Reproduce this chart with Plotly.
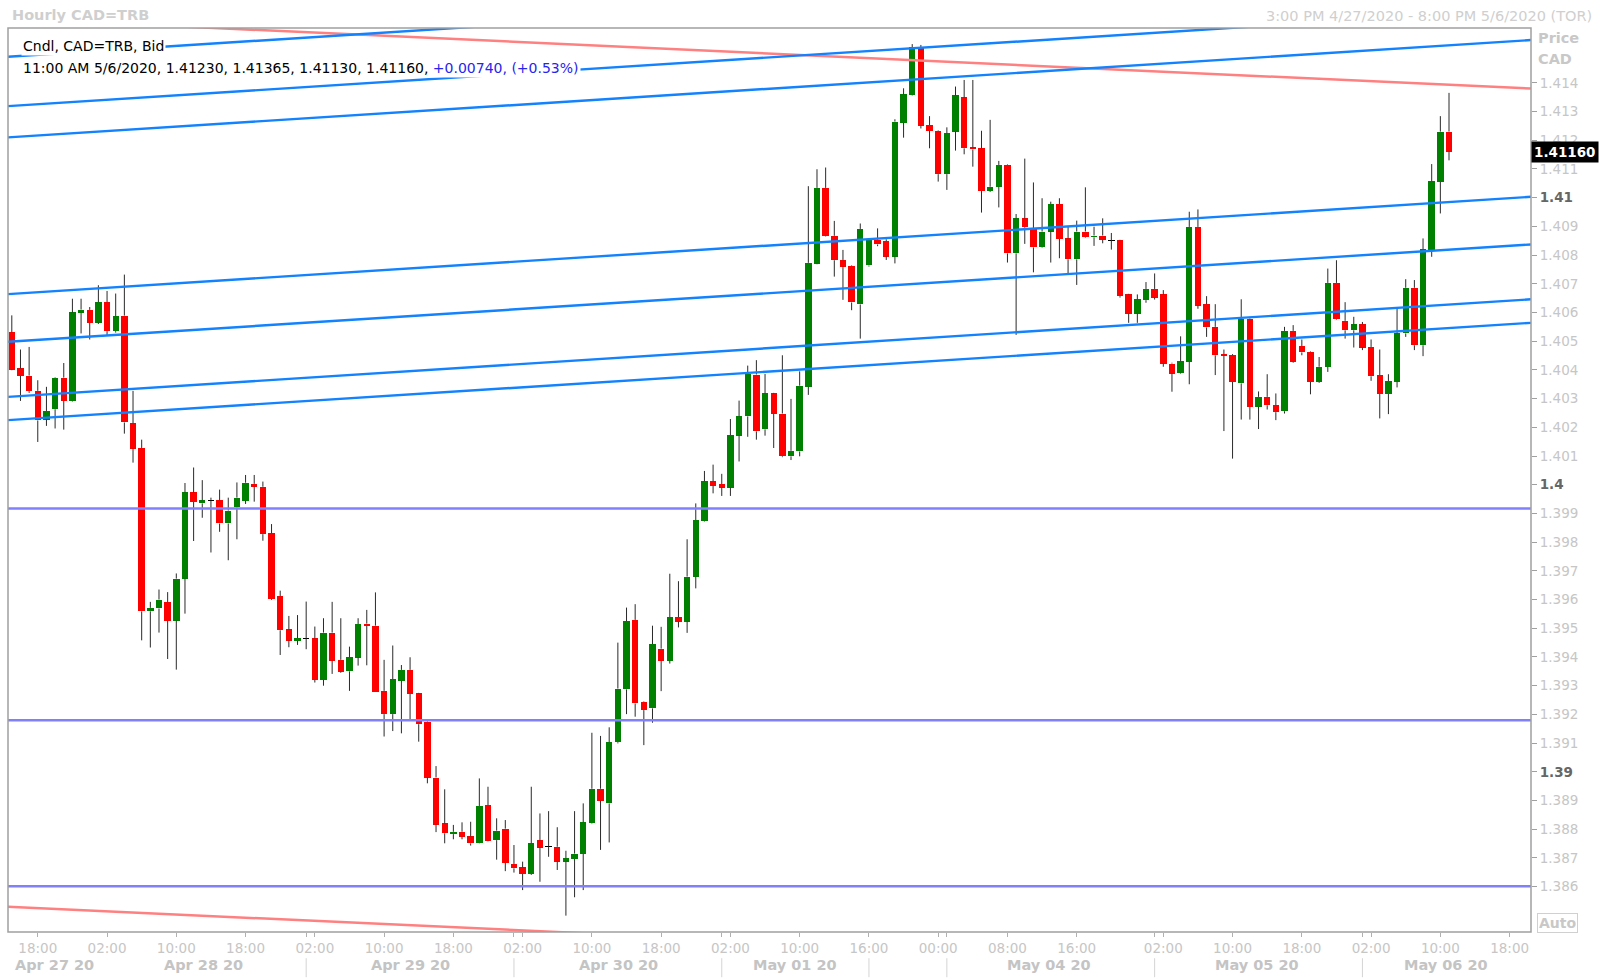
import plotly.graph_objects as go

# ---------------- data ----------------
candle_idx = list(range(167))
open_ = [1.40531,1.40405,1.40380,1.40327,1.40227,1.40263,1.40373,1.40292,1.40599,1.40609,
         1.40565,1.40636,1.40535,1.40589,1.40214,1.40128,1.39559,1.39569,1.39591,1.39526,
         1.39673,1.39973,1.39935,1.39945,1.39946,1.39865,1.39921,1.39945,1.40003,1.39993,
         1.39831,1.39612,1.39496,1.39457,1.39466,1.39465,1.39320,1.39485,1.39390,1.39350,
         1.39398,1.39516,1.39509,1.39282,1.39201,1.39318,1.39355,1.39273,1.39175,1.38980,
         1.38820,1.38783,1.38791,1.38775,1.38751,1.38884,1.38762,1.38802,1.38679,1.38667,
         1.38644,1.38761,1.38738,1.38739,1.38687,1.38696,1.38714,1.38820,1.38941,1.38890,
         1.39103,1.39287,1.39529,1.39243,1.39221,1.39429,1.39387,1.39539,1.39523,1.39680,
         1.39874,1.40012,1.40002,1.39990,1.40171,1.40238,1.40384,1.40193,1.40318,1.40248,
         1.40099,1.40116,1.40341,1.40770,1.41034,1.40867,1.40782,1.40763,1.40628,1.40764,
         1.40853,1.40849,1.40795,1.41261,1.41358,1.41524,1.41253,1.41233,1.41082,1.41230,
         1.41349,1.41175,1.41172,1.41023,1.41038,1.41114,1.40806,1.40928,1.40890,1.40827,
         1.40882,1.40978,1.40858,1.40785,1.40882,1.40862,1.40868,1.40852,1.40852,1.40663,
         1.40596,1.40643,1.40682,1.40663,1.40422,1.40390,1.40428,1.40898,1.40629,1.40550,
         1.40455,1.40451,1.40353,1.40578,1.40271,1.40306,1.40277,1.40256,1.40536,1.40483,
         1.40463,1.40358,1.40411,1.40703,1.40571,1.40538,1.40559,1.40480,1.40382,1.40316,
         1.40359,1.40527,1.40686,1.40486,1.40817,1.41055,1.41230]
high = [1.40590,1.40471,1.40480,1.40364,1.40341,1.40375,1.40424,1.40648,1.40648,1.40619,
        1.40695,1.40675,1.40666,1.40732,1.40327,1.40157,1.39592,1.39635,1.39626,1.39691,
        1.40006,1.40060,1.40016,1.39955,1.39983,1.39955,1.40008,1.40034,1.40034,1.40011,
        1.39863,1.39631,1.39543,1.39546,1.39593,1.39506,1.39535,1.39592,1.39535,1.39436,
        1.39535,1.39564,1.39625,1.39390,1.39440,1.39372,1.39399,1.39275,1.39180,1.39020,
        1.38939,1.38815,1.38824,1.38826,1.38977,1.38948,1.38838,1.38832,1.38745,1.38687,
        1.38948,1.38855,1.38863,1.38807,1.38725,1.38863,1.38890,1.39136,1.39125,1.39155,
        1.39450,1.39572,1.39584,1.39245,1.39509,1.39505,1.39690,1.39664,1.39810,1.39935,
        1.40048,1.40070,1.40038,1.40229,1.40293,1.40415,1.40434,1.40386,1.40320,1.40451,
        1.40299,1.40395,1.41040,1.41099,1.41105,1.40919,1.40818,1.40765,1.40910,1.40855,
        1.40893,1.40855,1.41273,1.41381,1.41535,1.41532,1.41284,1.41235,1.41245,1.41387,
        1.41410,1.41410,1.41233,1.41271,1.41128,1.41116,1.40943,1.41136,1.41053,1.40998,
        1.40986,1.40998,1.40899,1.40920,1.41036,1.40899,1.40928,1.40877,1.40853,1.40665,
        1.40663,1.40706,1.40736,1.40678,1.40425,1.40517,1.40951,1.40959,1.40657,1.40629,
        1.40471,1.40455,1.40646,1.40580,1.40325,1.40385,1.40318,1.40550,1.40556,1.40506,
        1.40465,1.40445,1.40753,1.40782,1.40636,1.40585,1.40567,1.40506,1.40471,1.40385,
        1.40614,1.40716,1.40713,1.40858,1.41117,1.41284,1.41365]
low = [1.40399,1.40292,1.40320,1.40149,1.40205,1.40196,1.40192,1.40290,1.40527,1.40506,
       1.40560,1.40521,1.40530,1.40178,1.40077,1.39458,1.39433,1.39485,1.39393,1.39356,
       1.39551,1.39804,1.39885,1.39764,1.39836,1.39737,1.39810,1.39933,1.39941,1.39805,
       1.39599,1.39407,1.39434,1.39442,1.39427,1.39311,1.39300,1.39341,1.39345,1.39282,
       1.39370,1.39371,1.39277,1.39123,1.39142,1.39134,1.39183,1.39105,1.38960,1.38790,
       1.38751,1.38765,1.38765,1.38743,1.38750,1.38758,1.38694,1.38654,1.38649,1.38588,
       1.38641,1.38617,1.38704,1.38658,1.38499,1.38563,1.38588,1.38818,1.38728,1.38754,
       1.39099,1.39201,1.39192,1.39093,1.39171,1.39281,1.39377,1.39503,1.39484,1.39639,
       1.39872,1.39970,1.39961,1.39961,1.40081,1.40167,1.40157,1.40171,1.40128,1.40096,
       1.40086,1.40099,1.40313,1.40768,1.40865,1.40725,1.40644,1.40608,1.40509,1.40760,
       1.40831,1.40783,1.40771,1.41209,1.41356,1.41241,1.41172,1.41056,1.41027,1.41164,
       1.41151,1.41108,1.40948,1.41020,1.40966,1.40774,1.40522,1.40839,1.40740,1.40825,
       1.40774,1.40789,1.40737,1.40696,1.40860,1.40832,1.40841,1.40819,1.40652,1.40564,
       1.40564,1.40634,1.40645,1.40411,1.40324,1.40387,1.40350,1.40613,1.40515,1.40382,
       1.40187,1.40091,1.40227,1.40227,1.40194,1.40262,1.40225,1.40248,1.40425,1.40451,
       1.40315,1.40355,1.40393,1.40574,1.40509,1.40478,1.40469,1.40362,1.40231,1.40246,
       1.40339,1.40515,1.40469,1.40448,1.40794,1.40945,1.41130]
close = [1.40401,1.40379,1.40326,1.40224,1.40257,1.40373,1.40292,1.40600,1.40610,1.40564,
         1.40636,1.40535,1.40587,1.40217,1.40126,1.39559,1.39571,1.39600,1.39526,1.39673,
         1.39973,1.39940,1.39946,1.39947,1.39865,1.39910,1.39955,1.40007,1.39993,1.39828,
         1.39603,1.39493,1.39457,1.39466,1.39465,1.39320,1.39485,1.39387,1.39349,1.39399,
         1.39515,1.39508,1.39277,1.39201,1.39323,1.39355,1.39271,1.39166,1.38980,1.38816,
         1.38786,1.38791,1.38774,1.38751,1.38881,1.38760,1.38795,1.38683,1.38664,1.38644,
         1.38751,1.38736,1.38739,1.38687,1.38699,1.38715,1.38824,1.38941,1.38899,1.39103,
         1.39290,1.39525,1.39238,1.39215,1.39445,1.39387,1.39539,1.39523,1.39680,1.39877,
         1.40012,1.39996,1.39990,1.40173,1.40238,1.40386,1.40186,1.40318,1.40247,1.40099,
         1.40118,1.40345,1.40773,1.41034,1.40867,1.40782,1.40760,1.40635,1.40891,1.40853,
         1.40837,1.40795,1.41265,1.41360,1.41524,1.41251,1.41233,1.41082,1.41224,1.41356,
         1.41172,1.41168,1.41023,1.41038,1.41114,1.40806,1.40928,1.40897,1.40827,1.40882,
         1.40978,1.40856,1.40785,1.40882,1.40862,1.40868,1.40853,1.40851,1.40657,1.40596,
         1.40646,1.40682,1.40652,1.40422,1.40387,1.40430,1.40898,1.40624,1.40548,1.40451,
         1.40449,1.40358,1.40578,1.40271,1.40306,1.40277,1.40253,1.40536,1.40428,1.40461,
         1.40358,1.40411,1.40703,1.40576,1.40538,1.40559,1.40478,1.40378,1.40316,1.40361,
         1.40527,1.40686,1.40486,1.40821,1.41057,1.41230,1.41160]

time_tick_idx = [3, 11, 19, 27, 35, 43, 51, 59, 67, 75, 83, 91, 99, 107, 115, 123, 133, 141, 149, 157, 165, 173]
time_tick_text = ["18:00", "02:00", "10:00", "18:00", "02:00", "10:00", "18:00", "02:00", "10:00", "18:00",
                  "02:00", "10:00", "16:00", "00:00", "08:00", "16:00", "02:00", "10:00", "18:00", "02:00",
                  "10:00", "18:00"]
date_labels = ["Apr 27 20", "Apr 28 20", "Apr 29 20", "Apr 30 20", "May 01 20", "May 04 20", "May 05 20", "May 06 20"]
date_label_idx = [4.9, 22.1, 46.1, 70.1, 90.5, 119.8, 143.8, 165.6]
day_break_idx = [34, 58, 82, 99, 108, 132, 156]

# trend/channel lines: price at left edge and at right edge of the plot
blue_left = [1.41491, 1.41319, 1.41210, 1.40664, 1.40498, 1.40306, 1.40225]
blue_right = [1.41831, 1.41658, 1.41549, 1.41003, 1.40837, 1.40646, 1.40564]
red_left = [1.41624, 1.38530]
red_right = [1.41380, 1.38286]
support_levels = [1.39917, 1.39180, 1.38601]
last_price = 1.41160

# ---------------- figure ----------------
X0, X1 = -0.44, 175.47
Y0, Y1 = 1.38442, 1.41591

fig = go.Figure()

# bodies
bases, heights, colors = [], [], []
for o, c in zip(open_, close):
    lo, hi = min(o, c), max(o, c)
    if hi - lo < 0.00004:
        mid = (hi + lo) / 2
        lo, hi = mid - 0.00002, mid + 0.00002
        colors.append("#000000")
    else:
        colors.append("#008000" if c > o else "#ff0000")
    bases.append(lo)
    heights.append(hi - lo)

fig.add_trace(go.Bar(x=candle_idx, y=heights, base=bases, width=0.74,
                     marker=dict(color=colors, line=dict(width=0)),
                     hoverinfo="skip", showlegend=False))

# wicks (split so they don't cross bodies)
wx, wy = [], []
for i, o, h, l, c in zip(candle_idx, open_, high, low, close):
    top, bot = max(o, c), min(o, c)
    if h > top:
        wx += [i, i, None]; wy += [top, h, None]
    if l < bot:
        wx += [i, i, None]; wy += [l, bot, None]
fig.add_trace(go.Scatter(x=wx, y=wy, mode="lines", line=dict(color="#2a2a2a", width=1),
                         hoverinfo="skip", showlegend=False))

# horizontal support lines
for lvl in support_levels:
    fig.add_trace(go.Scatter(x=[X0, X1], y=[lvl, lvl], mode="lines",
                             line=dict(color="#8080ff", width=2.5), hoverinfo="skip", showlegend=False))
# red channel
for a, b in zip(red_left, red_right):
    fig.add_trace(go.Scatter(x=[X0, X1], y=[a, b], mode="lines",
                             line=dict(color="#ff8080", width=2.5), hoverinfo="skip", showlegend=False))
# blue channel
for a, b in zip(blue_left, blue_right):
    fig.add_trace(go.Scatter(x=[X0, X1], y=[a, b], mode="lines",
                             line=dict(color="#1282ff", width=2.4), hoverinfo="skip", showlegend=False))

# y ticks
yvals = [round(1.386 + k * 0.001, 3) for k in range(29)]
ytext = []
for v in yvals:
    if abs(v * 100 - round(v * 100)) < 1e-6:
        ytext.append("<b><span style='color:#666666'>%g</span></b>" % v)
    else:
        ytext.append("%.3f" % v)

FONT = "DejaVu Sans, Verdana, sans-serif"
LIGHT = "#c6c6c6"

fig.update_layout(
    width=1600, height=980,
    margin=dict(l=8, r=69, t=28, b=48),
    paper_bgcolor="white", plot_bgcolor="white",
    bargap=0, showlegend=False, hovermode=False,
    font=dict(family=FONT, size=14, color="#000000"),
    xaxis=dict(range=[X0, X1], showgrid=False, zeroline=False, showline=False,
               tickvals=time_tick_idx + day_break_idx,
               ticktext=time_tick_text + [""] * len(day_break_idx),
               ticks="outside", ticklen=4, tickcolor="#b0b0b0", tickwidth=1,
               tickfont=dict(family=FONT, size=13.5, color=LIGHT)),
    yaxis=dict(range=[Y0, Y1], side="right", showgrid=False, zeroline=False, showline=False,
               tickvals=yvals, ticktext=ytext, ticks="outside", ticklen=5,
               tickcolor="#a0a0a0", tickwidth=1,
               tickfont=dict(family=FONT, size=13.5, color=LIGHT)),
)

shapes = [dict(type="rect", xref="paper", yref="paper", x0=0, y0=0, x1=1, y1=1,
               line=dict(color="#a0a0a0", width=1.5), fillcolor="rgba(0,0,0,0)", layer="above")]
for d in day_break_idx:
    shapes.append(dict(type="line", xref="x", yref="paper", x0=d, x1=d, y0=-0.029, y1=-0.050,
                       line=dict(color="#d4d4d4", width=1)))
fig.update_layout(shapes=shapes)

ann = []
ann.append(dict(xref="paper", yref="paper", x=0.0013, y=1.0139, xanchor="left", yanchor="middle",
                text="<b>Hourly CAD=TRB</b>", showarrow=False,
                font=dict(family=FONT, size=14.5, color="#cfcfcf")))
ann.append(dict(xref="paper", yref="paper", x=1.0414, y=1.0136, xanchor="right", yanchor="middle",
                text="3:00 PM 4/27/2020 - 8:00 PM 5/6/2020 (TOR)", showarrow=False,
                font=dict(family=FONT, size=14.5, color="#cfcfcf")))
ann.append(dict(xref="paper", yref="paper", x=0.0085, y=0.9796, xanchor="left", yanchor="middle",
                text="Cndl, CAD=TRB, Bid", showarrow=False, bgcolor="white", borderpad=1,
                font=dict(family=FONT, size=14, color="#000000")))
ann.append(dict(xref="paper", yref="paper", x=0.0085, y=0.9553, xanchor="left", yanchor="middle",
                text="11:00 AM 5/6/2020, 1.41230, 1.41365, 1.41130, 1.41160, "
                     "<span style='color:#2525ee'>+0.00740, (+0.53%)</span>",
                showarrow=False, bgcolor="white", borderpad=1,
                font=dict(family=FONT, size=14, color="#000000")))
ann.append(dict(xref="paper", yref="paper", x=1.0033, y=0.9885, xanchor="left", yanchor="middle",
                text="<b>Price</b>", showarrow=False, font=dict(family=FONT, size=14.5, color="#c8c8c8")))
ann.append(dict(xref="paper", yref="paper", x=1.0033, y=0.9655, xanchor="left", yanchor="middle",
                text="<b>CAD</b>", showarrow=False, font=dict(family=FONT, size=14.5, color="#c8c8c8")))
ann.append(dict(xref="paper", yref="y", x=1.0, y=last_price, xanchor="left", yanchor="middle",
                text="<b>%.5f</b>" % last_price, showarrow=False, bgcolor="#000000", borderpad=2,
                font=dict(family=FONT, size=13.5, color="#ffffff")))
ann.append(dict(xref="paper", yref="paper", x=1.0171, y=0.010, xanchor="center", yanchor="middle",
                text="<b>Auto</b>", showarrow=False, bgcolor="white", bordercolor="#d0d0d0",
                borderwidth=1, borderpad=1, font=dict(family=FONT, size=14, color="#c8c8c8")))
for lab, xi in zip(date_labels, date_label_idx):
    ann.append(dict(xref="x", yref="paper", x=xi, y=-0.0365, xanchor="center", yanchor="middle",
                    text="<b>%s</b>" % lab, showarrow=False,
                    font=dict(family=FONT, size=14.5, color="#c4c4c4")))
fig.update_layout(annotations=ann)

fig.write_html("out.html", config={"displayModeBar": False, "staticPlot": True},
               post_script="document.body.style.margin='0';document.body.style.padding='0';")
